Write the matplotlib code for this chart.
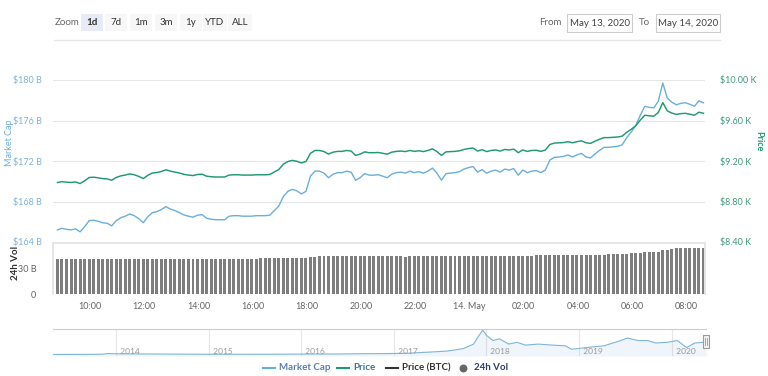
import matplotlib
matplotlib.use("Agg")
import matplotlib.pyplot as plt
import pandas as pd
from matplotlib.patches import Rectangle

plt.rcParams['font.family'] = ['Lato', 'DejaVu Sans']

# ---------------- data ----------------
times = pd.date_range("2020-05-13 08:48", periods=144, freq="10min")

market_cap_b = [
    165.2, 165.35, 165.25, 165.2, 165.3, 165.0, 165.5, 166.1, 166.15, 166.05,
    165.9, 165.85, 165.6, 166.1, 166.4, 166.55, 166.77, 166.6, 166.3, 165.9,
    166.5, 166.9, 167.0, 167.2, 167.5, 167.25, 167.1, 166.9, 166.67, 166.55,
    166.45, 166.65, 166.7, 166.35, 166.25, 166.2, 166.2, 166.2, 166.55, 166.6,
    166.6, 166.55, 166.55, 166.55, 166.6, 166.6, 166.6, 166.65, 167.1, 167.55,
    168.5, 169.0, 169.2, 169.05, 168.75, 169.0, 170.5, 171.0, 171.0, 170.8,
    170.35, 170.7, 170.85, 170.85, 171.0, 170.9, 170.1, 170.35, 170.75, 170.6,
    170.6, 170.65, 170.5, 170.35, 170.7, 170.85, 170.9, 170.8, 171.0, 170.85,
    170.95, 170.8, 171.0, 171.3, 170.8, 170.1, 170.75, 170.8, 170.85, 170.95,
    171.2, 171.35, 171.45, 170.9, 171.15, 170.8, 171.0, 171.1, 170.9, 171.2,
    171.1, 171.25, 170.6, 171.1, 170.85, 171.0, 171.05, 170.85, 171.1, 172.1,
    172.35, 172.4, 172.45, 172.6, 172.4, 172.6, 172.75, 172.4, 172.3, 172.7,
    173.05, 173.35, 173.35, 173.4, 173.45, 173.6, 174.3, 174.85, 175.5, 176.5,
    177.4, 177.3, 177.25, 177.9, 179.7, 178.2, 177.8, 177.55, 177.7, 177.75,
    177.6, 177.4, 177.95, 177.75,
]

price_usd = [
    8988, 8996, 8991, 8988, 8993, 8977, 9004, 9037, 9040, 9034,
    9026, 9023, 9010, 9037, 9053, 9061, 9073, 9064, 9048, 9026,
    9059, 9081, 9086, 9097, 9113, 9100, 9091, 9081, 9068, 9061,
    9056, 9067, 9070, 9050, 9045, 9042, 9042, 9042, 9061, 9064,
    9064, 9061, 9061, 9061, 9064, 9064, 9064, 9067, 9091, 9116,
    9168, 9195, 9206, 9197, 9181, 9195, 9276, 9304, 9304, 9293,
    9268, 9287, 9295, 9295, 9304, 9298, 9255, 9268, 9290, 9282,
    9282, 9284, 9276, 9268, 9287, 9295, 9298, 9293, 9304, 9295,
    9301, 9293, 9304, 9320, 9293, 9255, 9290, 9293, 9295, 9301,
    9314, 9323, 9328, 9298, 9312, 9293, 9304, 9309, 9298, 9314,
    9309, 9317, 9282, 9309, 9295, 9304, 9306, 9295, 9309, 9363,
    9377, 9380, 9382, 9391, 9380, 9391, 9399, 9380, 9374, 9396,
    9415, 9431, 9431, 9434, 9437, 9445, 9483, 9513, 9548, 9603,
    9652, 9646, 9643, 9679, 9777, 9695, 9673, 9660, 9668, 9671,
    9662, 9652, 9682, 9671,
]

volume_b = [
    40.8, 40.8, 40.8, 40.8, 40.8, 40.8, 40.8, 40.8, 41.6, 41.6,
    41.6, 41.6, 41.6, 41.6, 41.6, 41.6, 41.6, 41.6, 41.6, 41.6,
    41.6, 41.6, 41.6, 41.6, 41.6, 41.6, 41.6, 41.6, 41.6, 41.6,
    41.6, 41.6, 41.6, 41.6, 41.6, 41.6, 41.6, 41.6, 41.6, 41.6,
    41.6, 41.6, 41.6, 41.6, 41.0, 42.0, 42.0, 42.0, 42.0, 42.0,
    42.0, 42.8, 42.8, 42.8, 42.8, 42.8, 44.0, 44.0, 44.8, 44.8,
    44.8, 44.8, 44.8, 44.8, 44.8, 44.8, 44.8, 44.8, 44.8, 44.8,
    44.8, 44.8, 44.8, 44.8, 44.8, 44.8, 44.8, 43.8, 44.8, 44.8,
    44.8, 44.8, 44.8, 44.8, 44.8, 44.8, 44.8, 44.8, 44.8, 44.8,
    44.8, 44.8, 44.8, 44.8, 44.8, 44.8, 44.8, 44.8, 44.8, 44.8,
    45.0, 45.0, 45.0, 45.0, 45.0, 45.0, 45.3, 45.3, 45.3, 45.3,
    46.0, 46.0, 46.0, 46.0, 46.0, 46.3, 46.3, 46.3, 46.3, 46.3,
    46.3, 46.3, 47.1, 47.1, 47.1, 47.1, 47.1, 48.3, 48.3, 48.3,
    49.5, 49.5, 49.5, 49.5, 51.5, 51.5, 53.5, 54.7, 54.7, 54.7,
    54.7, 54.7, 54.7, 54.7,
]

x_tick_times = pd.date_range("2020-05-13 10:00", periods=12, freq="2h")
x_tick_labels = ["10:00", "12:00", "14:00", "16:00", "18:00", "20:00",
                 "22:00", "14. May", "02:00", "04:00", "06:00", "08:00"]
mc_ticks = [164, 168, 172, 176, 180]
mc_tick_labels = ["$164 B", "$168 B", "$172 B", "$176 B", "$180 B"]
price_ticks = [8400, 8800, 9200, 9600, 10000]
price_tick_labels = ["$8.40 K", "$8.80 K", "$9.20 K", "$9.60 K", "$10.00 K"]
vol_ticks = [0, 30]
vol_tick_labels = ["0", "30 B"]

nav_year = [2013.32, 2013.6, 2013.85, 2013.92, 2014.0, 2014.15, 2014.4, 2014.7,
            2015.0, 2015.3, 2015.7, 2016.0, 2016.4, 2016.6, 2016.9, 2017.16,
            2017.39, 2017.58, 2017.75, 2017.86, 2017.92, 2017.96, 2018.0,
            2018.07, 2018.14, 2018.24, 2018.33, 2018.42, 2018.56, 2018.71,
            2018.85, 2018.92, 2019.08, 2019.27, 2019.45, 2019.52, 2019.64,
            2019.74, 2019.83, 2019.95, 2020.06, 2020.16, 2020.25, 2020.34,
            2020.37]
nav_mc_b = [1.5, 1.5, 4, 13, 10, 8, 7, 5, 3.5, 3.5, 4, 6, 7, 10, 12, 18, 33,
            47, 80, 141, 259, 330, 259, 189, 212, 141, 165, 127, 141, 127, 118,
            71, 94, 118, 189, 222, 189, 189, 156, 165, 189, 94, 156, 165, 177]
nav_year_ticks = [2014, 2015, 2016, 2017, 2018, 2019, 2020]

zoom_buttons = ["1d", "7d", "1m", "3m", "1y", "YTD", "ALL"]
legend_items = ["Market Cap", "Price", "Price (BTC)", "24h Vol"]

# ---------------- style ----------------
MC_COLOR = "#6aaedc"
MC_LABEL = "#7fb3d9"
PRICE_COLOR = "#1f9a6c"
PRICE_LABEL = "#3f9c78"
GRID = "#e6e6e6"
TXT = "#666666"

W, H = 768, 376
fig = plt.figure(figsize=(W / 100, H / 100), dpi=100)


def fx(px):
    return px / W


def fy(py):
    return 1 - py / H


day0 = pd.Timestamp("2020-05-13")
hrs = (times - day0) / pd.Timedelta(hours=1)
tick_hrs = (x_tick_times - day0) / pd.Timedelta(hours=1)
XL = (8.635, 32.69)

# main price / market-cap panel
ax = fig.add_axes([fx(53), fy(242), fx(705) - fx(53), fy(80) - fy(242)])
ax.plot(hrs, market_cap_b, color=MC_COLOR, lw=1.0, zorder=3)
ax.set_xlim(*XL)
ax.set_ylim(164, 180)
ax.set_yticks(mc_ticks)
ax.set_yticklabels(mc_tick_labels)
ax.tick_params(axis='y', length=0, pad=8, labelsize=6.5, labelcolor=MC_LABEL)
ax.set_xticks([])
ax.grid(axis='y', color=GRID, lw=0.8)
for s in ax.spines.values():
    s.set_visible(False)
ax.set_facecolor("none")

ax2 = ax.twinx()
ax2.plot(hrs, price_usd, color=PRICE_COLOR, lw=1.05, zorder=3)
ax2.set_ylim(8400, 10000)
ax2.set_yticks(price_ticks)
ax2.set_yticklabels(price_tick_labels)
ax2.tick_params(axis='y', length=0, pad=11, labelsize=6.5, labelcolor=PRICE_LABEL)
for s in ax2.spines.values():
    s.set_visible(False)
ax2.set_xlim(*XL)

# volume panel
axv = fig.add_axes([fx(53), fy(294), fx(705) - fx(53), fy(243) - fy(294)])
axv.bar(hrs, volume_b, width=0.11, color="#7e7e7e", edgecolor="none", align='center')
axv.set_xlim(*XL)
axv.set_ylim(0, 60)
axv.set_yticks(vol_ticks)
axv.set_yticklabels(vol_tick_labels)
axv.tick_params(axis='y', length=0, pad=12, labelsize=6.5, labelcolor=TXT)
axv.set_xticks(tick_hrs)
axv.set_xticklabels(x_tick_labels)
axv.tick_params(axis='x', length=0, pad=6, labelsize=6.5, labelcolor=TXT)
for name, s in axv.spines.items():
    s.set_color(GRID)
    s.set_linewidth(1.4)
axv.spines['bottom'].set_visible(False)

# navigator
axn = fig.add_axes([fx(53), fy(356), fx(706) - fx(53), fy(329) - fy(356)])
axn.fill_between(nav_year, nav_mc_b, -20, color="#7fb3d9", alpha=0.12, lw=0)
axn.plot(nav_year, nav_mc_b, color="#7fb3d9", lw=0.8)
axn.set_xlim(nav_year[0], nav_year[-1])
axn.set_ylim(-20, 345)
for yr in nav_year_ticks:
    axn.axvline(yr, color=GRID, lw=0.8, zorder=0)
    axn.text(yr, -5, "  " + str(yr), fontsize=6, color="#999999", ha='left', va='bottom')
axn.set_xticks([])
axn.set_yticks([])
for name, s in axn.spines.items():
    s.set_visible(False)
axn.spines['top'].set_visible(True)
axn.spines['top'].set_color("#cccccc")
axn.spines['top'].set_linewidth(0.8)

# axis titles
fig.text(fx(10), fy(143), "Market Cap", rotation=90, color=MC_COLOR, fontsize=6.5,
         ha='center', va='center')
fig.text(fx(759), fy(141), "Price", rotation=270, color=PRICE_COLOR, fontsize=6.5,
         ha='center', va='center', fontweight='bold')
fig.text(fx(15), fy(263), "24h Vol", rotation=90, color="#333333", fontsize=7,
         ha='center', va='center', fontweight='bold')

# UI overlay (toolbar, legend, handle)
ui = fig.add_axes([0, 0, 1, 1], zorder=10)
ui.set_xlim(0, W)
ui.set_ylim(H, 0)
ui.axis('off')
ui.patch.set_alpha(0)

ui.text(55, 22.5, "Zoom", fontsize=7, color=TXT, ha='left', va='center')
btn_centers = [92, 116, 141, 166, 191, 215, 240]
btn_widths = [22, 22, 22, 22, 22, 24, 24]
for i, (lab, cx, bw) in enumerate(zip(zoom_buttons, btn_centers, btn_widths)):
    sel = i == 0
    ui.add_patch(Rectangle((cx - bw / 2, 14), bw, 17, facecolor="#e6ebf5" if sel else "#f7f7f7",
                           edgecolor="none"))
    ui.text(cx, 22.5, lab, fontsize=7, color="#333333", ha='center', va='center',
            fontweight='bold' if sel else 'normal')

ui.text(562, 22.5, "From", fontsize=7, color=TXT, ha='right', va='center')
ui.add_patch(Rectangle((567, 14), 65, 18, facecolor="white", edgecolor="#cccccc", lw=0.8))
ui.text(599.5, 23, "May 13, 2020", fontsize=7, color="#444444", ha='center', va='center')
ui.text(644, 22.5, "To", fontsize=7, color=TXT, ha='center', va='center')
ui.add_patch(Rectangle((656, 14), 64, 18, facecolor="white", edgecolor="#cccccc", lw=0.8))
ui.text(688, 23, "May 14, 2020", fontsize=7, color="#444444", ha='center', va='center')
ui.plot([54, 720], [39.5, 39.5], color=GRID, lw=1)

# navigator handle
ui.add_patch(Rectangle((703, 335), 6, 13, facecolor="#f2f2f2", edgecolor="#999999", lw=0.8))
ui.plot([705.3, 705.3], [338, 345], color="#999999", lw=0.6)
ui.plot([706.7, 706.7], [338, 345], color="#999999", lw=0.6)

# legend
ly = 368
leg_colors = [MC_COLOR, PRICE_COLOR, "#333333", "#666666"]
leg_text_colors = ["#5b7fae", "#3b7a8a", "#333333", "#2b3f6b"]
leg_x = [263, 337, 386, 458]
for i, (lab, c, tc, x0) in enumerate(zip(legend_items, leg_colors, leg_text_colors, leg_x)):
    if i < 3:
        ui.plot([x0, x0 + 12], [ly, ly], color=c, lw=1.5)
    else:
        ui.scatter([x0 + 5], [ly], s=22, color=c)
    ui.text(x0 + 16, ly, lab, fontsize=7, color=tc, ha='left', va='center', fontweight='bold')

fig.savefig("out.png", dpi=100)
